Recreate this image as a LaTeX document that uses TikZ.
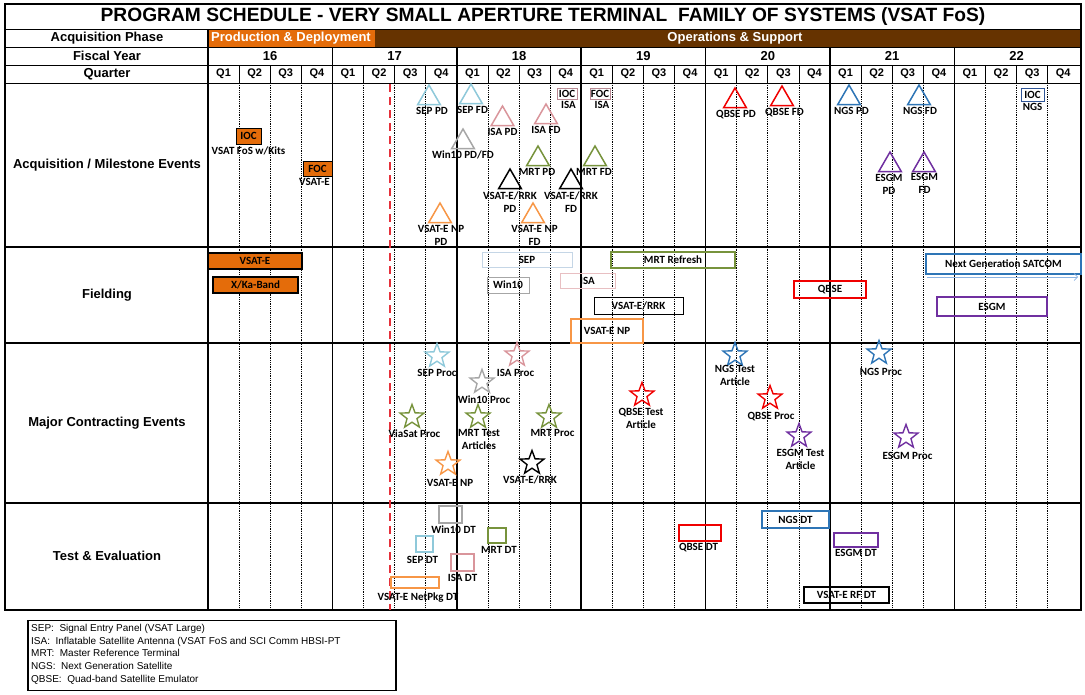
\documentclass[tikz,border=0pt]{standalone}
\usepackage{fontspec}
\setmainfont{Liberation Sans}
\newfontfamily\calfont{Carlito}
\usetikzlibrary{arrows.meta,positioning,shapes.geometric}
\definecolor{ProdOrange}{HTML}{E46C0A}
\definecolor{OpsBrown}{HTML}{663300}
\definecolor{SepBlue}{HTML}{8FC9DA}
\definecolor{SepLine}{HTML}{C5D6E6}
\definecolor{IsaPink}{HTML}{D9959B}
\definecolor{IsaLight}{HTML}{E8BFC2}
\definecolor{IsaBox}{HTML}{B98A94}
\definecolor{WinGray}{HTML}{A6A6A6}
\definecolor{MrtOlive}{HTML}{77933C}
\definecolor{NpOrange}{HTML}{F79646}
\definecolor{QbseRed}{HTML}{F00000}
\definecolor{NgsBlue}{HTML}{2E75B6}
\definecolor{NgsDark}{HTML}{2F5597}
\definecolor{NgsLight}{HTML}{8DB4E2}
\definecolor{EsgmPurple}{HTML}{7030A0}
\definecolor{NowRed}{HTML}{E5303A}
\tikzset{
  hdr/.style={font=\fontsize{13}{15}\selectfont\bfseries, inner sep=0pt},
  qlab/.style={font=\fontsize{11}{13}\selectfont\bfseries, inner sep=0pt},
  lbl/.style={font=\calfont\fontsize{11}{13}\selectfont\bfseries, align=center, inner sep=0.5pt},
  mile/.style={regular polygon, regular polygon sides=3, draw=#1, line width=1.5pt,
    minimum size=26pt, inner sep=0pt},
  proc/.style={star, star points=5, star point ratio=2.4, draw=#1, line width=1.4pt,
    minimum size=25pt, inner sep=0pt},
  evt/.style={lbl, rectangle, draw=#1, line width=1.5pt, inner sep=0pt},
  kit/.style={evt=black, fill=ProdOrange},
  yearline/.style={line width=1.6pt},
  qline/.style={densely dotted, line width=0.8pt}
}

\begin{document}
\begin{tikzpicture}[x=1pt,y=-1pt]
  \useasboundingbox (0,0) rectangle (1085,694);
  % phase band
  \fill[ProdOrange] (208,29) rectangle (375,47);
  \fill[OpsBrown] (375,29) rectangle (1081,47);
  % grid
  \foreach \y in {29,47,65,83} \draw[line width=1pt] (5,\y) -- (1081,\y);
  \foreach \y in {247,343,503} \draw[line width=1.3pt] (5,\y) -- (1081,\y);
  \foreach \q in {1,...,27}{
    \pgfmathtruncatemacro\m{mod(\q,4)}
    \ifnum\m>0
      \draw[line width=0.8pt] (208+31.1*\q,65) -- (208+31.1*\q,83);
      \draw[qline] (208+31.1*\q,83) -- (208+31.1*\q,610);
    \fi
  }
  \foreach \i in {1,...,6} \draw[yearline] (208+124.4*\i,47) -- (208+124.4*\i,610);
  \draw[line width=1.6pt] (208,29) -- (208,610);
  \draw[line width=1.6pt] (5,4) rectangle (1081,610);
  % today
  \draw[NowRed, line width=2.5pt, dash pattern=on 8pt off 5pt] (390,84) -- (390,610);

  % header
  \node[font=\fontsize{19.2}{21}\selectfont\bfseries, inner sep=0pt] (title) at (543,17)
    {PROGRAM SCHEDULE - VERY SMALL APERTURE TERMINAL\ \ FAMILY OF SYSTEMS (VSAT FoS)};
  \node[hdr] (hPhase) at (107,38) {Acquisition Phase};
  \node[hdr] (hFy) at (107,56) {Fiscal Year};
  \node[hdr] (hQtr) at (107,74) {Quarter};
  \node[hdr, white, anchor=west] (pProd) at (211,38) {Production \& Deployment};
  \node[hdr, white] (pOps) at (735,38) {Operations \& Support};
  \foreach \yr [count=\i from 0] in {16,...,22}
    \node[hdr] (fy\yr) at (270.2+124.4*\i,56) {\yr};
  \foreach \q in {0,...,27}{
    \pgfmathtruncatemacro\qn{mod(\q,4)+1}
    \node[qlab] (q\q) at (223.55+31.1*\q,74) {Q\qn};
  }
  \node[hdr] (rAcq) at (107,165) {Acquisition / Milestone Events};
  \node[hdr] (rFld) at (107,295) {Fielding};
  \node[hdr] (rCon) at (107,423) {Major Contracting Events};
  \node[hdr] (rTe) at (107,556) {Test \& Evaluation};

  % acquisition / milestone events
  \node[kit, line width=0.8pt, minimum width=25pt, minimum height=16pt] (aIoc) at (248.5,136) {IOC};
  \node[lbl, below=1.5pt of aIoc] (aIocL) {VSAT FoS w/Kits};
  \node[kit, line width=0.8pt, minimum width=29pt, minimum height=15pt] (aFoc) at (317.5,168.5) {FOC};
  \node[lbl, below=1.5pt of aFoc, xshift=-3pt] (aFocL) {VSAT-E};
  \node[mile=SepBlue] (aSepPd) at (429,98) {};
  \node[lbl, below=1pt of aSepPd, xshift=3pt] (aSepPdL) {SEP PD};
  \node[mile=SepBlue] (aSepFd) at (471,97) {};
  \node[lbl, below=1pt of aSepFd, xshift=1.5pt] (aSepFdL) {SEP FD};
  \node[mile=IsaPink] (aIsaPd) at (502.5,119) {};
  \node[lbl, below=1pt of aIsaPd] (aIsaPdL) {ISA PD};
  \node[mile=IsaPink] (aIsaFd) at (546,117) {};
  \node[lbl, below=1pt of aIsaFd] (aIsaFdL) {ISA FD};
  \node[evt=IsaBox, line width=0.8pt, minimum width=20pt, minimum height=11pt] (aIsaIoc) at (567,93.5) {IOC};
  \node[lbl, below=1pt of aIsaIoc, xshift=1.5pt] (aIsaIocL) {ISA};
  \node[evt=IsaBox, line width=0.8pt, minimum width=20pt, minimum height=11pt] (aIsaFoc) at (600,93.5) {FOC};
  \node[lbl, below=1pt of aIsaFoc, xshift=2pt] (aIsaFocL) {ISA};
  \node[mile=WinGray] (aWin) at (463,142) {};
  \node[lbl, below=1pt of aWin] (aWinL) {Win10 PD/FD};
  \node[mile=MrtOlive] (aMrtPd) at (538,159) {};
  \node[lbl, below=1pt of aMrtPd, xshift=-1pt] (aMrtPdL) {MRT PD};
  \node[mile=MrtOlive] (aMrtFd) at (595,159) {};
  \node[lbl, below=1pt of aMrtFd, xshift=-1pt] (aMrtFdL) {MRT FD};
  \node[mile=black] (aRrkPd) at (510,182) {};
  \node[lbl, below=2pt of aRrkPd] (aRrkPdL) {VSAT-E/RRK\\PD};
  \node[mile=black] (aRrkFd) at (571,182) {};
  \node[lbl, below=2pt of aRrkFd] (aRrkFdL) {VSAT-E/RRK\\FD};
  \node[mile=NpOrange] (aNpPd) at (440,216) {};
  \node[lbl, below=1pt of aNpPd, xshift=1pt] (aNpPdL) {VSAT-E NP\\PD};
  \node[mile=NpOrange] (aNpFd) at (533,216) {};
  \node[lbl, below=1pt of aNpFd, xshift=1.5pt] (aNpFdL) {VSAT-E NP\\FD};
  \node[mile=QbseRed] (aQbsePd) at (735,101) {};
  \node[lbl, below=1pt of aQbsePd, xshift=1pt] (aQbsePdL) {QBSE PD};
  \node[mile=QbseRed] (aQbseFd) at (782,99) {};
  \node[lbl, below=1pt of aQbseFd, xshift=2.5pt] (aQbseFdL) {QBSE FD};
  \node[mile=NgsBlue] (aNgsPd) at (849,98) {};
  \node[lbl, below=1pt of aNgsPd, xshift=2.5pt] (aNgsPdL) {NGS PD};
  \node[mile=NgsBlue] (aNgsFd) at (919,98) {};
  \node[lbl, below=1pt of aNgsFd, xshift=1pt] (aNgsFdL) {NGS FD};
  \node[mile=EsgmPurple] (aEsgmPd) at (890,165) {};
  \node[lbl, below=1pt of aEsgmPd, xshift=-1pt] (aEsgmPdL) {ESGM\\PD};
  \node[mile=EsgmPurple] (aEsgmFd) at (924,165) {};
  \node[lbl, below=0.5pt of aEsgmFd, xshift=0.5pt] (aEsgmFdL) {ESGM\\FD};
  \node[evt=NgsDark, line width=1pt, minimum width=23pt, minimum height=13pt] (aNgsIoc) at (1032.5,94.5) {IOC};
  \node[lbl, below=1.5pt of aNgsIoc] (aNgsIocL) {NGS};

  % fielding
  \node[kit, line width=1.8pt, minimum width=94pt, minimum height=16pt] (fVsatE) at (255,261) {VSAT-E};
  \node[kit, line width=1.8pt, minimum width=85pt, minimum height=16pt] (fXka) at (255.5,285) {X/Ka-Band};
  \node[evt=SepLine, line width=0.8pt, minimum width=90pt, minimum height=15pt] (fSep) at (527,259.5) {SEP};
  \node[evt=WinGray, line width=1pt, minimum width=42pt, minimum height=16pt] (fWin) at (508,285) {Win10};
  \node[evt=IsaLight, line width=0.8pt, minimum width=55pt, minimum height=15pt] (fIsa) at (587.5,280.5) {ISA};
  \node[evt=MrtOlive, minimum width=124pt, minimum height=16pt] (fMrt) at (673,260) {MRT Refresh};
  \node[evt=black, line width=1pt, minimum width=89pt, minimum height=17pt] (fRrk) at (638.5,305.5) {VSAT-E/RRK};
  \node[evt=NpOrange, line width=2pt, minimum width=72pt, minimum height=24pt] (fNp) at (607,331) {VSAT-E NP};
  \node[evt=QbseRed, line width=2pt, minimum width=72pt, minimum height=17pt] (fQbse) at (830,289.5) {QBSE};
  \node[evt=NgsBlue, line width=2pt, minimum width=155pt, minimum height=20pt] (fNgs) at (1003.5,264) {Next Generation SATCOM};
  \node[evt=EsgmPurple, line width=2pt, minimum width=110pt, minimum height=19pt] (fEsgm) at (992,306.5) {ESGM};
  \coordinate (ngsFrom) at (927,277);
  \coordinate (ngsTo) at (1078,277);
  \draw[NgsLight, line width=0.7pt, -{Straight Barb[length=3.5pt]}] (ngsFrom) -- (ngsTo);

  % major contracting events
  \node[proc=SepBlue] (sSep) at (437,356) {};
  \node[lbl, below=13pt of sSep.center] (sSepL) {SEP Proc};
  \node[proc=IsaPink] (sIsa) at (517,355) {};
  \node[lbl, below=14pt of sIsa.center, xshift=-1.5pt] (sIsaL) {ISA Proc};
  \node[proc=WinGray] (sWin) at (482,382) {};
  \node[lbl, below=13.5pt of sWin.center, xshift=2pt] (sWinL) {Win10 Proc};
  \node[proc=MrtOlive] (sVia) at (412,417) {};
  \node[lbl, below=12pt of sVia.center, xshift=2.5pt] (sViaL) {ViaSat Proc};
  \node[proc=MrtOlive] (sMrtTa) at (478,417) {};
  \node[lbl, below=12pt of sMrtTa.center, xshift=1pt] (sMrtTaL) {MRT Test\\Articles};
  \node[proc=MrtOlive] (sMrt) at (549,417) {};
  \node[lbl, below=12pt of sMrt.center, xshift=3.5pt] (sMrtL) {MRT Proc};
  \node[proc=NpOrange] (sNp) at (448,464) {};
  \node[lbl, below=15pt of sNp.center, xshift=2pt] (sNpL) {VSAT-E NP};
  \node[proc=black] (sRrk) at (532,463) {};
  \node[lbl, below=12.5pt of sRrk.center, xshift=-2pt] (sRrkL) {VSAT-E/RRK};
  \node[proc=QbseRed] (sQbseTa) at (642,395) {};
  \node[lbl, below=12.5pt of sQbseTa.center, xshift=-1pt] (sQbseTaL) {QBSE Test\\Article};
  \node[proc=NgsBlue] (sNgsTa) at (735,355) {};
  \node[lbl, below=10pt of sNgsTa.center] (sNgsTaL) {NGS Test\\Article};
  \node[proc=QbseRed] (sQbse) at (770,398) {};
  \node[lbl, below=13.5pt of sQbse.center, xshift=1pt] (sQbseL) {QBSE Proc};
  \node[proc=EsgmPurple] (sEsgmTa) at (799,436) {};
  \node[lbl, below=12.5pt of sEsgmTa.center, xshift=1.5pt] (sEsgmTaL) {ESGM Test\\Article};
  \node[proc=NgsBlue] (sNgs) at (879,353) {};
  \node[lbl, below=14.5pt of sNgs.center, xshift=2pt] (sNgsL) {NGS Proc};
  \node[proc=EsgmPurple] (sEsgm) at (906,437) {};
  \node[lbl, below=14.5pt of sEsgm.center, xshift=1.5pt] (sEsgmL) {ESGM Proc};

  % test & evaluation
  \node[evt=WinGray, minimum width=23pt, minimum height=17pt] (tWin) at (450.5,514.5) {};
  \node[lbl, below=1pt of tWin, xshift=3pt] (tWinL) {Win10 DT};
  \node[evt=SepBlue, minimum width=17pt, minimum height=16pt] (tSep) at (424.5,544) {};
  \node[lbl, below=2.5pt of tSep, xshift=-2pt] (tSepL) {SEP DT};
  \node[evt=MrtOlive, minimum width=18pt, minimum height=15pt] (tMrt) at (497,535.5) {};
  \node[lbl, below=1.5pt of tMrt, xshift=2pt] (tMrtL) {MRT DT};
  \node[evt=IsaPink, minimum width=23pt, minimum height=17pt] (tIsa) at (462.5,562.5) {};
  \node[lbl, below=1.5pt of tIsa] (tIsaL) {ISA DT};
  \node[evt=NpOrange, minimum width=48pt, minimum height=11pt] (tNp) at (415,582.5) {};
  \node[lbl, below=3pt of tNp, xshift=3pt] (tNpL) {VSAT-E NetPkg DT};
  \node[evt=QbseRed, line width=1.8pt, minimum width=42pt, minimum height=16pt] (tQbse) at (700,533) {};
  \node[lbl, below=0.5pt of tQbse, xshift=-1.5pt] (tQbseL) {QBSE DT};
  \node[evt=NgsBlue, line width=1.8pt, minimum width=67pt, minimum height=17pt] (tNgs) at (795.5,519.5) {NGS DT};
  \node[evt=EsgmPurple, line width=1.8pt, minimum width=44pt, minimum height=14pt] (tEsgm) at (856,540) {};
  \node[lbl, below=0.5pt of tEsgm] (tEsgmL) {ESGM DT};
  \node[evt=black, line width=1.8pt, minimum width=85pt, minimum height=16pt] (tRf) at (846.5,595) {VSAT-E RF DT};

  % legend
  \node[draw, line width=1.6pt, minimum width=368pt, minimum height=70pt, anchor=north west, inner sep=0pt] (legend) at (27,619.5) {};
  \node[anchor=north west, align=left, inner sep=0pt, font=\fontsize{10}{12.7}\selectfont] (legendText) at (31,624)
    {SEP:\ \ Signal Entry Panel (VSAT Large)\\
     ISA:\ \ Inflatable Satellite Antenna (VSAT FoS and SCI Comm HBSI-PT\\
     MRT:\ \ Master Reference Terminal\\
     NGS:\ \ Next Generation Satellite\\
     QBSE:\ \ Quad-band Satellite Emulator};
\end{tikzpicture}
\end{document}
